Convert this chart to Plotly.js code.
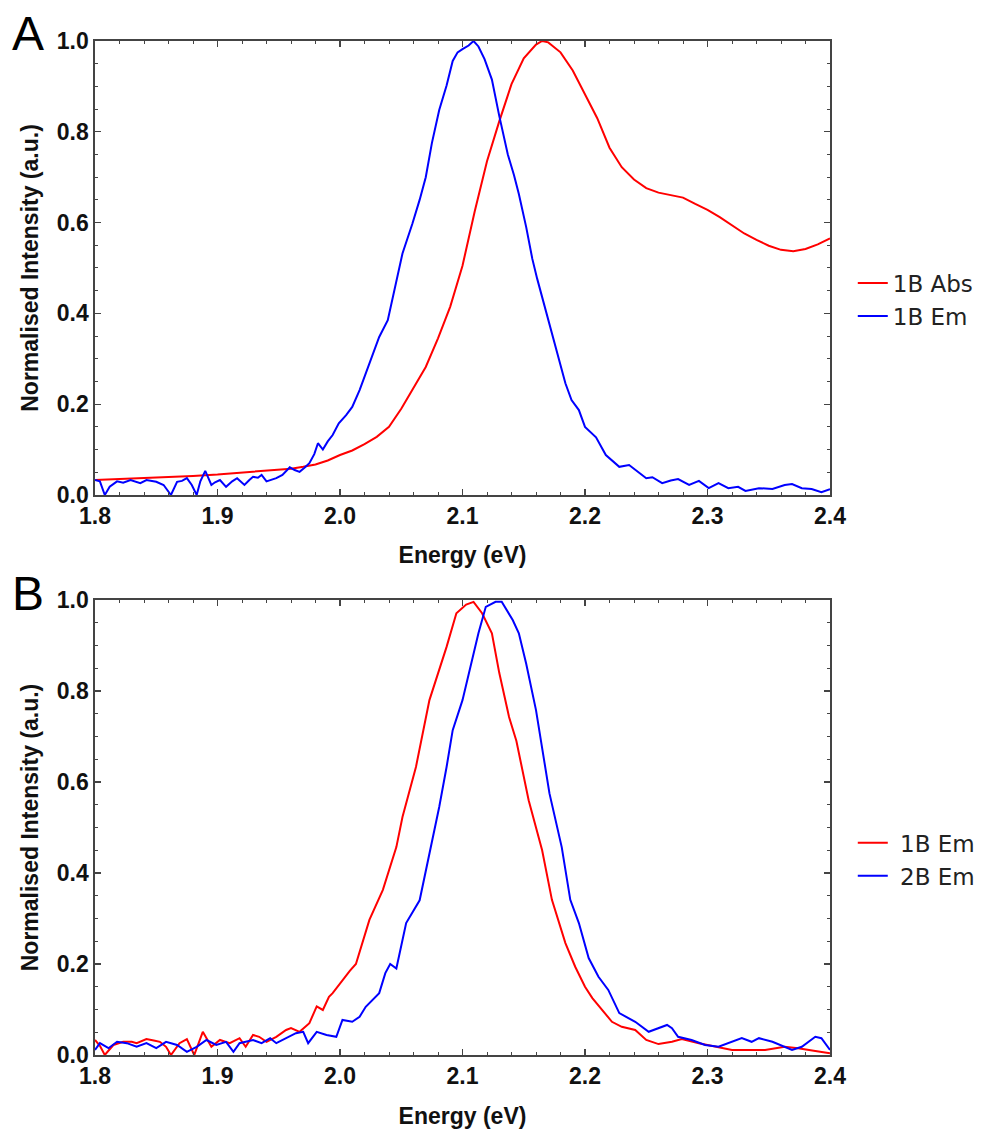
<!DOCTYPE html>
<html>
<head>
<meta charset="utf-8">
<script src="https://cdn.plot.ly/plotly-3.0.1.min.js"></script>
<style>html,body{margin:0;padding:0;background:#fff;}#chart{width:992px;height:1131px;}</style>
</head>
<body>
<div id="chart"></div>
<script>
// Panel A: 1B absorption (red)
const absA_x = [1.80,1.82,1.84,1.86,1.88,1.90,1.92,1.94,1.96,1.97,1.98,1.99,2.00,2.01,2.02,2.03,2.04,2.05,2.06,2.07,2.08,2.09,2.10,2.11,2.12,2.13,2.14,2.15,2.16,2.165,2.17,2.18,2.19,2.20,2.21,2.22,2.23,2.24,2.25,2.26,2.27,2.28,2.29,2.30,2.31,2.32,2.33,2.34,2.35,2.36,2.37,2.38,2.39,2.40];
const absA_y = [0.033,0.035,0.037,0.040,0.042,0.045,0.049,0.053,0.058,0.062,0.067,0.076,0.088,0.098,0.112,0.128,0.150,0.190,0.235,0.282,0.345,0.415,0.505,0.625,0.735,0.823,0.905,0.962,0.992,1.000,0.997,0.975,0.935,0.882,0.830,0.765,0.722,0.695,0.676,0.666,0.660,0.655,0.641,0.628,0.612,0.593,0.576,0.562,0.549,0.540,0.537,0.542,0.552,0.565];

// Panel A: 1B emission (blue)
const emA_x = [1.800,1.804,1.808,1.812,1.818,1.823,1.829,1.833,1.837,1.842,1.846,1.850,1.856,1.859,1.862,1.867,1.871,1.875,1.879,1.883,1.886,1.890,1.895,1.898,1.902,1.907,1.912,1.916,1.919,1.922,1.926,1.929,1.933,1.936,1.940,1.944,1.948,1.953,1.959,1.963,1.967,1.971,1.975,1.979,1.982,1.986,1.990,1.994,1.999,2.005,2.010,2.016,2.024,2.032,2.039,2.046,2.051,2.059,2.065,2.070,2.075,2.081,2.087,2.092,2.096,2.100,2.105,2.109,2.113,2.118,2.124,2.130,2.137,2.142,2.146,2.152,2.157,2.161,2.165,2.173,2.179,2.184,2.189,2.195,2.200,2.209,2.217,2.228,2.236,2.241,2.250,2.255,2.263,2.270,2.276,2.285,2.293,2.301,2.309,2.317,2.325,2.331,2.342,2.353,2.363,2.369,2.377,2.385,2.393,2.400];
const emA_y = [0.033,0.030,0.000,0.018,0.030,0.027,0.033,0.030,0.026,0.033,0.031,0.029,0.022,0.012,0.000,0.029,0.031,0.037,0.022,0.000,0.030,0.053,0.022,0.028,0.033,0.018,0.030,0.037,0.030,0.022,0.033,0.040,0.038,0.044,0.030,0.033,0.037,0.044,0.061,0.055,0.051,0.060,0.070,0.090,0.114,0.100,0.118,0.132,0.158,0.176,0.194,0.231,0.290,0.348,0.385,0.473,0.532,0.597,0.650,0.700,0.775,0.848,0.902,0.956,0.975,0.982,0.990,1.000,0.988,0.960,0.915,0.835,0.750,0.705,0.663,0.590,0.520,0.476,0.435,0.356,0.297,0.246,0.209,0.187,0.150,0.127,0.088,0.062,0.066,0.055,0.037,0.039,0.026,0.032,0.035,0.022,0.031,0.015,0.026,0.015,0.018,0.009,0.015,0.013,0.022,0.024,0.015,0.013,0.006,0.013];

// Panel B: 1B emission (red)
const em1B_x = [1.800,1.804,1.808,1.815,1.823,1.830,1.834,1.842,1.848,1.853,1.858,1.862,1.869,1.875,1.881,1.888,1.895,1.902,1.910,1.918,1.923,1.929,1.934,1.940,1.948,1.956,1.960,1.967,1.975,1.981,1.986,1.991,1.994,2.002,2.008,2.013,2.018,2.024,2.035,2.046,2.051,2.062,2.073,2.081,2.087,2.095,2.103,2.109,2.116,2.124,2.130,2.138,2.144,2.154,2.165,2.173,2.184,2.192,2.200,2.206,2.214,2.222,2.230,2.241,2.250,2.260,2.271,2.279,2.293,2.306,2.320,2.336,2.347,2.363,2.374,2.388,2.400];
const em1B_y = [0.033,0.020,0.000,0.022,0.029,0.029,0.026,0.035,0.032,0.029,0.018,0.000,0.026,0.035,0.000,0.051,0.018,0.033,0.026,0.037,0.018,0.044,0.040,0.029,0.040,0.055,0.059,0.051,0.070,0.107,0.099,0.128,0.136,0.165,0.185,0.200,0.242,0.297,0.363,0.457,0.523,0.633,0.780,0.846,0.897,0.971,0.990,0.996,0.971,0.927,0.840,0.743,0.690,0.560,0.450,0.341,0.246,0.194,0.150,0.125,0.099,0.073,0.062,0.055,0.033,0.024,0.029,0.035,0.026,0.018,0.011,0.011,0.011,0.018,0.015,0.009,0.004];

// Panel B: 2B emission (blue)
const em2B_x = [1.800,1.804,1.811,1.818,1.826,1.834,1.842,1.850,1.858,1.867,1.875,1.883,1.891,1.899,1.907,1.913,1.918,1.929,1.936,1.943,1.948,1.956,1.964,1.970,1.974,1.981,1.989,1.997,2.002,2.010,2.016,2.021,2.026,2.032,2.037,2.041,2.046,2.051,2.054,2.065,2.073,2.081,2.087,2.092,2.100,2.108,2.113,2.119,2.127,2.132,2.141,2.146,2.152,2.160,2.171,2.181,2.188,2.195,2.203,2.211,2.219,2.228,2.233,2.241,2.252,2.260,2.267,2.271,2.276,2.287,2.298,2.309,2.320,2.328,2.336,2.342,2.353,2.363,2.369,2.377,2.388,2.393,2.400];
const em2B_y = [0.011,0.026,0.015,0.029,0.026,0.018,0.026,0.015,0.029,0.022,0.007,0.018,0.033,0.022,0.029,0.007,0.026,0.033,0.026,0.037,0.026,0.037,0.048,0.051,0.026,0.051,0.044,0.040,0.077,0.073,0.084,0.106,0.119,0.136,0.180,0.200,0.190,0.253,0.290,0.340,0.443,0.545,0.633,0.714,0.780,0.875,0.927,0.985,0.996,0.996,0.956,0.927,0.860,0.758,0.575,0.457,0.341,0.290,0.213,0.172,0.143,0.092,0.084,0.073,0.051,0.059,0.066,0.059,0.040,0.033,0.022,0.018,0.029,0.037,0.029,0.037,0.029,0.018,0.011,0.018,0.040,0.037,0.011];

const xTickVals = [1.8,1.9,2.0,2.1,2.2,2.3,2.4];
const xTickText = ["1.8","1.9","2.0","2.1","2.2","2.3","2.4"];
const yTickVals = [0,0.2,0.4,0.6,0.8,1.0];
const yTickText = ["0.0","0.2","0.4","0.6","0.8","1.0"];

const RED = '#ff0000', BLUE = '#0000ff';
const traces = [
  {x: absA_x, y: absA_y, name: '1B Abs', mode: 'lines', line: {color: RED, width: 2}, xaxis: 'x', yaxis: 'y', legend: 'legend'},
  {x: emA_x, y: emA_y, name: '1B Em', mode: 'lines', line: {color: BLUE, width: 2}, xaxis: 'x', yaxis: 'y', legend: 'legend'},
  {x: em1B_x, y: em1B_y, name: ' 1B Em', mode: 'lines', line: {color: RED, width: 2}, xaxis: 'x2', yaxis: 'y2', legend: 'legend2'},
  {x: em2B_x, y: em2B_y, name: ' 2B Em', mode: 'lines', line: {color: BLUE, width: 2}, xaxis: 'x2', yaxis: 'y2', legend: 'legend2'}
];

const tickFont = {family: 'Liberation Sans, Arial, sans-serif', size: 23, color: '#111'};
const titleFont = {family: 'Liberation Sans, Arial, sans-serif', size: 23, color: '#111'};
const AX = '#444';

function xax(anchor) {
  return {
    anchor: anchor, domain: [0, 1], range: [1.8, 2.4],
    tickmode: 'array', tickvals: xTickVals, ticktext: xTickText.map(t => '<b>' + t + '</b>'),
    ticks: 'inside', ticklen: 6, tickwidth: 1.2, tickcolor: AX,
    minor: {dtick: 0.02, tick0: 1.8, ticks: 'inside', ticklen: 3, tickwidth: 1, tickcolor: AX},
    showline: true, linecolor: AX, linewidth: 1.6, mirror: 'ticks',
    showgrid: false, zeroline: false, tickfont: tickFont,
    title: {text: '<b>Energy (eV)</b>', font: titleFont, standoff: 19}
  };
}
function yax(anchor, dom) {
  return {
    anchor: anchor, domain: dom, range: [0, 1.0],
    tickmode: 'array', tickvals: yTickVals, ticktext: yTickText.map(t => '<b>' + t + '</b>'),
    ticks: 'inside', ticklen: 6, tickwidth: 1.2, tickcolor: AX,
    minor: {dtick: 0.05, tick0: 0, ticks: 'inside', ticklen: 3, tickwidth: 1, tickcolor: AX},
    showline: true, linecolor: AX, linewidth: 1.6, mirror: 'ticks',
    showgrid: false, zeroline: false, tickfont: tickFont,
    title: {text: '<b>Normalised Intensity (a.u.)</b>', font: titleFont, standoff: 12}
  };
}

const legendFont = {family: 'DejaVu Sans, sans-serif', size: 23, color: '#222'};
const layout = {
  width: 992, height: 1131,
  margin: {l: 95, r: 160, t: 41, b: 76},
  paper_bgcolor: '#fff', plot_bgcolor: '#fff',
  showlegend: true,
  xaxis: xax('y'),
  yaxis: yax('x', [0.5523, 1]),
  xaxis2: xax('y2'),
  yaxis2: yax('x2', [0, 0.4487]),
  legend: {x: 1.031, y: 0.745, xanchor: 'left', yanchor: 'middle', font: legendFont, bgcolor: 'rgba(0,0,0,0)', tracegroupgap: 0, itemwidth: 30},
  legend2: {x: 1.031, y: 0.193, xanchor: 'left', yanchor: 'middle', font: legendFont, bgcolor: 'rgba(0,0,0,0)', tracegroupgap: 0, itemwidth: 30},
  annotations: [
    {text: 'A', xref: 'paper', yref: 'paper', x: -0.115, y: 1.007, xanchor: 'left', yanchor: 'middle', showarrow: false, font: {family: 'Liberation Sans, Arial, sans-serif', size: 48, color: '#000'}},
    {text: 'B', xref: 'paper', yref: 'paper', x: -0.115, y: 0.455, xanchor: 'left', yanchor: 'middle', showarrow: false, font: {family: 'Liberation Sans, Arial, sans-serif', size: 48, color: '#000'}}
  ]
};

Plotly.newPlot('chart', traces, layout, {displayModeBar: false, staticPlot: true});
</script>
</body>
</html>
